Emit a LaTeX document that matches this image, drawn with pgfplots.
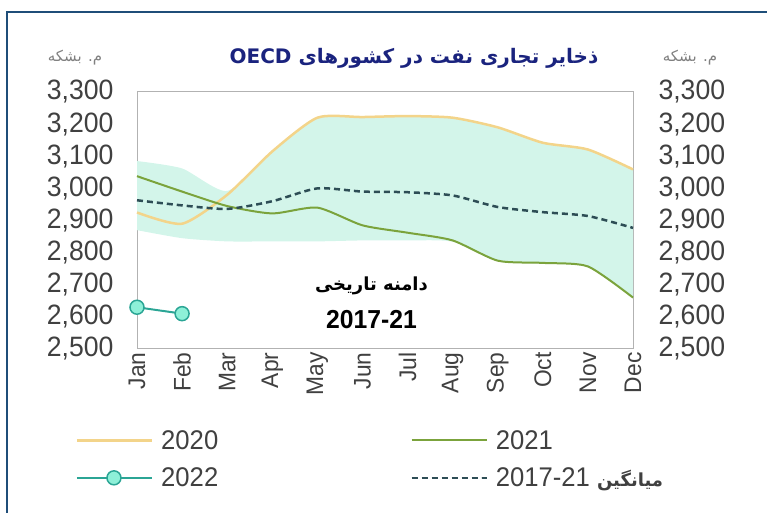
\documentclass[border=0pt]{standalone}
\usepackage{pgfplots}
\pgfplotsset{compat=1.18}
\usepgfplotslibrary{fillbetween}
\usepackage{fontspec}
\setmainfont{Liberation Sans}[FakeStretch=0.95]
\newfontfamily\arabicfont[Script=Arabic]{DejaVu Sans}
\TeXXeTstate=1
\definecolor{frameblue}{HTML}{1F4E79}
\definecolor{bandc}{HTML}{D3F5EA}
\definecolor{c2020}{HTML}{F3D48A}
\definecolor{c2021}{HTML}{7BA33C}
\definecolor{cavg}{HTML}{2D4D55}
\definecolor{c2022}{HTML}{2BA595}
\definecolor{c2022f}{HTML}{8EF0D8}
\definecolor{titlec}{HTML}{1A237E}
\definecolor{tickc}{HTML}{404040}
\begin{document}
\begin{tikzpicture}[x=1pt,y=1pt]
\draw[frameblue, line width=1.5pt] (7,0) -- (7,501) -- (767,501);
\node[text=titlec, font=\arabicfont\bfseries\fontsize{20}{24}\selectfont] at (414,455) {\beginR ذخایر تجاری نفت در کشورهای \beginL OECD\endL\endR};
\node[text=gray, font=\arabicfont\fontsize{15}{17}\selectfont] at (75,455) {\beginR م. بشکه\endR};
\node[text=gray, font=\arabicfont\fontsize{15}{17}\selectfont] at (690,455) {\beginR م. بشکه\endR};
\begin{axis}[
  at={(137pt,164pt)}, anchor=south west,
  width=496pt, height=257pt, scale only axis,
  xmin=0, xmax=11, ymin=2500, ymax=3300,
  ytick={2500,2600,...,3300},
  xtick={0,...,11},
  xticklabels={Jan,Feb,Mar,Apr,May,Jun,Jul,Aug,Sep,Oct,Nov,Dec},
  major tick length=0pt,
  axis line style={gray!60, line width=1pt},
  /pgf/number format/assume math mode=true,
  /pgf/number format/1000 sep={,},
  yticklabel style={font=\fontsize{28}{30}\selectfont, text=tickc, xshift=-20pt},
  xticklabel style={font=\fontsize{24}{28}\selectfont, text=tickc, rotate=90, anchor=east, xshift=0pt},
  clip=false,
  legend columns=2,
  legend cell align=left,
  legend style={draw=none, fill=none, at={(-0.13,-0.30)}, anchor=north west,
    font=\fontsize{27}{30}\selectfont, text=tickc,
    /tikz/every odd column/.append style={column sep=6pt},
    /tikz/every even column/.append style={column sep=190pt},
    row sep=13pt},
  legend image code/.code={\draw[mark repeat=2,mark phase=2,#1] plot coordinates {(0pt,0pt) (37pt,0pt) (75pt,0pt)};},
]
\addplot[name path=U, draw=none, smooth, tension=0.4, forget plot] coordinates {
 (0,3085) (1,3062) (2,2992) (3,3115) (4,3220) (5,3222) (6,3225) (7,3220) (8,3190) (9,3142) (10,3121) (11,3059)};
\addplot[name path=L, draw=none, smooth, tension=0.4, forget plot] coordinates {
 (0,2870) (1,2845) (2,2835) (3,2835) (4,2835) (5,2838) (6,2838) (7,2834) (8,2773) (9,2766) (10,2755) (11,2658)};
\addplot[bandc, forget plot] fill between[of=U and L];
\addplot[c2020, line width=2.5pt, smooth, tension=0.4] coordinates {
 (0,2925) (1,2890) (2,2980) (3,3115) (4,3220) (5,3222) (6,3225) (7,3220) (8,3190) (9,3142) (10,3121) (11,3059)};
\addlegendentry{2020}
\addplot[c2021, line width=2pt, smooth, tension=0.4] coordinates {
 (0,3038) (1,2990) (2,2945) (3,2922) (4,2940) (5,2885) (6,2862) (7,2838) (8,2775) (9,2768) (10,2757) (11,2660)};
\addlegendentry{2021}
\addplot[c2022, line width=2pt, mark=*, mark size=7pt, mark options={fill=c2022f, draw=c2022, line width=1.5pt}] coordinates {
 (0,2630) (1,2610)};
\addlegendentry{2022}
\addplot[cavg, line width=2.5pt, dash pattern=on 6pt off 4pt, smooth, tension=0.4] coordinates {
 (0,2963) (1,2947) (2,2936) (3,2960) (4,3000) (5,2990) (6,2988) (7,2978) (8,2942) (9,2926) (10,2914) (11,2877)};
\addlegendentry{2017-21 {\arabicfont\bfseries\fontsize{18}{20}\selectfont\beginR میانگین\endR}}
\node[align=center, font=\bfseries\fontsize{26}{34}\selectfont] at (axis cs:5.2,2645) {{\arabicfont\fontsize{18}{24}\selectfont\beginR دامنه تاریخی\endR}\\[4pt]2017-21};
\end{axis}
\begin{axis}[
  at={(137pt,164pt)}, anchor=south west,
  width=496pt, height=257pt, scale only axis,
  xmin=0, xmax=11, ymin=2500, ymax=3300,
  ytick={2500,2600,...,3300},
  axis x line=none, axis y line*=right,
  axis line style={draw=none},
  major tick length=0pt,
  /pgf/number format/assume math mode=true,
  /pgf/number format/1000 sep={,},
  yticklabel style={font=\fontsize{28}{30}\selectfont, text=tickc, xshift=22pt},
]
\addplot[draw=none, forget plot] coordinates {(0,2500) (11,2500)};
\end{axis}
\pgfresetboundingbox
\useasboundingbox (0,0) rectangle (767,513);
\end{tikzpicture}
\end{document}
